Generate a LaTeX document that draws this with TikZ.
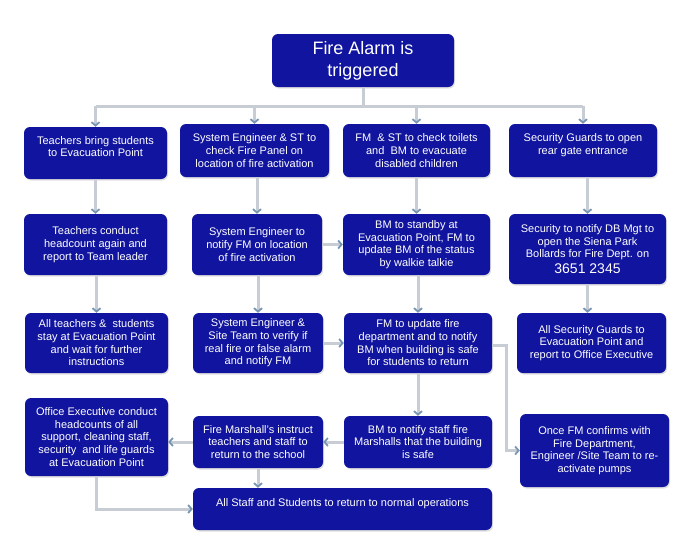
\documentclass[tikz,border=0pt]{standalone}
\usepackage{fontspec}
\setmainfont{Liberation Sans}
\usetikzlibrary{arrows.meta,shadows}
\definecolor{boxblue}{RGB}{16,20,158}
\definecolor{linegray}{RGB}{200,204,212}
\definecolor{tipblue}{RGB}{120,150,180}
\tikzset{
  box/.style={fill=boxblue, rounded corners=6pt, inner sep=0pt, text=white, align=center,
    font=\fontsize{11}{12.7}\selectfont,
    drop shadow={opacity=0.25, shadow xshift=1pt, shadow yshift=-1.5pt}},
  conn/.style={draw=linegray, line width=3pt,
    -{Straight Barb[length=3.5pt,width=8pt,line width=1.8pt,color=tipblue]}},
  bus/.style={draw=linegray, line width=3pt}
}
\newcommand{\mkbox}[6]{%
  \node[box, minimum width={(#4-#2)*1pt}, minimum height={(#5-#3)*1pt}]
    (#1) at ({(#2+#4)/2},{(#3+#5)/2}) {#6};}
\begin{document}
\begin{tikzpicture}[x=1pt,y=-1pt]
\useasboundingbox (0,0) rectangle (700,550);
\fill[white] (0,0) rectangle (700,550);
% top
\node[box, minimum width=182pt, minimum height=53pt, font=\fontsize{18}{22}\selectfont]
  (top) at (363,60.5) {Fire Alarm is\\triggered};
% row 1
\mkbox{b1}{24}{127}{167}{179}{Teachers bring students\\to Evacuation Point\\\mbox{}}
\mkbox{b2}{180}{124}{329}{177}{System Engineer \& ST to\\check Fire Panel on\\location of fire activation}
\mkbox{b3}{343}{124}{490}{177}{FM \ \& ST to check toilets\\and \ BM to evacuate\\disabled children}
\mkbox{b4}{509}{124}{657}{177}{Security Guards to open\\rear gate entrance\\\mbox{}}
% row 2
\mkbox{c1}{24}{214}{167}{275}{Teachers conduct\\headcount again and\\report to Team leader}
\mkbox{c2}{192}{214}{322}{275}{System Engineer to\\notify FM on location\\of fire activation}
\mkbox{c3}{343}{214}{490}{275}{BM to standby at\\Evacuation Point, FM to\\update BM of the status\\by walkie talkie}
\mkbox{c4}{509}{214}{666}{284}{Security to notify DB Mgt to\\open the Siena Park\\Bollards for Fire Dept. on\\[3pt]{\fontsize{14}{16}\selectfont 3651 2345}}
% row 3
\mkbox{d1}{25}{313}{168}{373}{All teachers \& \ students\\stay at Evacuation Point\\and wait for further\\instructions}
\mkbox{d2}{193}{313}{323}{373}{System Engineer \&\\Site Team to verify if\\real fire or false alarm\\and notify FM}
\mkbox{d3}{344}{313}{492}{373}{FM to update fire\\department and to notify\\BM when building is safe\\for students to return}
\mkbox{d4}{517}{313}{666}{373}{All Security Guards to\\Evacuation Point and\\report to Office Executive}
% row 4
\mkbox{e1}{25}{398}{168}{476}{Office Executive conduct\\headcounts of all\\support, cleaning staff,\\security \ and life guards\\at Evacuation Point}
\mkbox{e2}{193}{416}{323}{468}{Fire Marshall's instruct\\teachers and staff to\\return to the school}
\mkbox{e3}{344}{416}{492}{468}{BM to notify staff fire\\Marshalls that the building\\is safe}
\mkbox{e4}{520}{414}{669}{487}{Once FM confirms with\\Fire Department,\\Engineer /Site Team to re-\\activate pumps}
\mkbox{f}{193}{488}{492}{530}{All Staff and Students to return to normal operations\\\mbox{}}
% connectors
\coordinate (bus) at (363,106);
\coordinate (kink) at (506,345);
\draw[bus] (top.south) -- (bus);
\draw[bus] (b1.north |- bus) -- (b4.north |- bus);
\foreach \n in {b1,b2,b3,b4} \draw[conn] (\n.north |- bus) -- (\n.north);
\draw[conn] (b1.south) -- (c1.north);
\draw[conn] (b2.south -| c2.north) -- (c2.north);
\draw[conn] (b3.south) -- (c3.north);
\draw[conn] (b4.south -| c4.north) -- (c4.north);
\draw[conn] (c1.south -| d1.north) -- (d1.north);
\draw[conn] (c2.south -| d2.north) -- (d2.north);
\draw[conn] (c3.south -| d3.north) -- (d3.north);
\draw[conn] (c4.south) -- (c4.south |- d4.north);
\draw[conn] (c2.east) -- (c2.east -| c3.west);
\draw[conn] (d2.east) -- (d2.east -| d3.west);
\draw[conn] (d3.south) -- (e3.north);
\draw[conn] (d3.east |- kink) -- (kink) |- (e4.west);
\draw[conn] (e3.west) -- (e3.west -| e2.east);
\draw[conn] (e2.west) -- (e2.west -| e1.east);
\draw[conn] (e2.south) -- (e2.south |- f.north);
\draw[conn] (e1.south) |- (f.west);
\end{tikzpicture}
\end{document}
